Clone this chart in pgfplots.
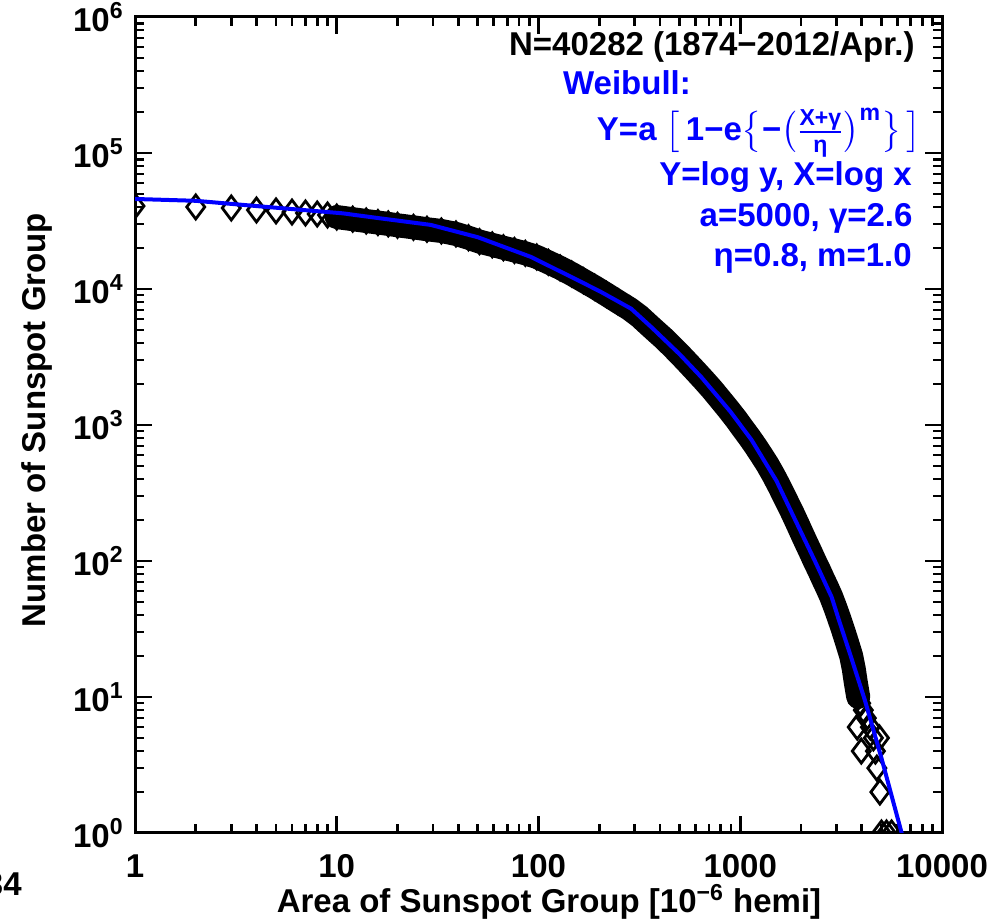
\documentclass[border=0pt]{standalone}
\usepackage{fontspec}
\setmainfont{Liberation Sans}
\usepackage{amsmath}
\usepackage{pgfplots}
\usepackage{pgfplotstable}
\pgfplotsset{compat=1.18}
\pgfplotstableread{
x y
1 40700
2 40100
3 39400
4 38100
5 37500
6 36800
7 36200
8 35600
9 35000
3954 9
4074 8
4217 7
4416 6
3802 6
4571 5
4898 5
4677 4
3981 4
4753 3
4920 2
5012 1
5309 1
5623 1
}\indivtab
\pgfplotstableread{
x y
10 33800
12 32600
14 31600
16 30800
18 30100
20 29400
24 28400
28 27500
33 26700
39 25400
45 23800
51 22300
59 21100
67 20100
76 19200
86 18300
98 17200
112 15700
128 14300
146 12900
167 11500
190 10300
217 9120
248 8050
283 7130
316 6310
347 5550
380 4910
417 4340
457 3800
501 3310
550 2860
603 2470
661 2130
724 1830
794 1550
871 1310
955 1100
1035 933
1109 813
1189 701
1274 600
1365 511
1462 427
1567 351
1679 285
1799 232
1928 186
2042 154
2138 133
2239 115
2344 99
2455 86
2570 74
2692 64
2818 55
2951 46
3090 38
3236 31
3388 25
3548 20
3656 16
3733 13
3802 11
3846 10
}\bandtab
\pgfplotstableread{
x y
1 45900
2 44500
4.33 40300
10.7 36000
15.85 33300
29.2 29600
50.1 24000
91.8 17200
158.5 11500
204 9510
288 7160
362 5250
501 3310
641 2250
891 1260
1138 776
1514 387
1945 178
2344 100
2838 54.3
3076 37.2
3548 19.5
4140 9.55
5012 3.55
5754 1.66
6310 1.0
6761 0.676
}\fittab
\begin{document}
\fontsize{16.5}{19}\selectfont\bfseries
\begin{tikzpicture}
\begin{axis}[
  scale only axis, width=403.5pt, height=408pt,
  xmode=log, ymode=log,
  xmin=1, xmax=10000, ymin=1, ymax=1000000,
  clip mode=individual, clip marker paths=true,
  axis line style={line width=1.5pt},
  tick style={line width=1.3pt, draw=black},
  major tick length=8.5pt, minor tick length=4.5pt,
  tick align=inside,
  xtick={1,10,100,1000,10000},
  ytick={1,10,100,1000,10000,100000,1000000},
  minor xtick={2,3,4,5,6,7,8,9,20,30,40,50,60,70,80,90,200,300,400,500,600,700,800,900,2000,3000,4000,5000,6000,7000,8000,9000},
  minor ytick={2,3,4,5,6,7,8,9,20,30,40,50,60,70,80,90,200,300,400,500,600,700,800,900,2000,3000,4000,5000,6000,7000,8000,9000,20000,30000,40000,50000,60000,70000,80000,90000,200000,300000,400000,500000,600000,700000,800000,900000},
  xticklabels={1,10,100,1000,10000},
  yticklabels={10\textsuperscript{0},10\textsuperscript{1},10\textsuperscript{2},10\textsuperscript{3},10\textsuperscript{4},10\textsuperscript{5},10\textsuperscript{6}},
  xticklabel style={yshift=-5pt},
  xlabel={Area of Sunspot Group [10\textsuperscript{−6} hemi]},
  ylabel={Number of Sunspot Group},
  every axis x label/.style={at={(rel axis cs:0.513,-0.0846)}, anchor=center},
  every axis y label/.style={at={(rel axis cs:-0.1214,0.506)}, rotate=90, anchor=center},
]
\addplot[black, line width=12pt, line join=round, line cap=round] table[x=x,y=y] {\bandtab};
\addplot[only marks, mark=diamond, mark size=6pt, mark options={line width=1.4pt, black, fill=none}] table[x=x,y=y] {\bandtab};
\addplot[only marks, mark=diamond, mark size=6pt, mark options={line width=1.4pt, black, fill=none}] table[x=x,y=y] {\indivtab};
\addplot[blue, line width=2pt] table[x=x,y=y] {\fittab};
\node[anchor=east, inner sep=0] at (rel axis cs:0.9665,0.963) {N=40282 (1874−2012/Apr.)};
\node[anchor=west, inner sep=0, text=blue] at (rel axis cs:0.530,0.919) {Weibull:};
\node[anchor=east, inner sep=0, text=blue] at (rel axis cs:0.975,0.858) {Y=a $\bigl[\,\text{1−e}\bigl\{\text{−}\bigl(\frac{\text{X+γ}}{\text{η}}\bigr)^{\text{m}}\bigr\}\,\bigr]$};
\node[anchor=east, inner sep=0, text=blue] at (rel axis cs:0.963,0.804) {Y=log y, X=log x};
\node[anchor=east, inner sep=0, text=blue] at (rel axis cs:0.964,0.7537) {a=5000, γ=2.6};
\node[anchor=east, inner sep=0, text=blue] at (rel axis cs:0.963,0.7047) {η=0.8, m=1.0};
\node[anchor=east, inner sep=0] at (rel axis cs:-0.14,-0.0625) {34};
\coordinate (BL) at (rel axis cs:-0.16729,-0.11029);
\coordinate (TR) at (rel axis cs:1.07559,1.02083);
\end{axis}
\pgfresetboundingbox
\path[use as bounding box] (BL) rectangle (TR);
\end{tikzpicture}
\end{document}
